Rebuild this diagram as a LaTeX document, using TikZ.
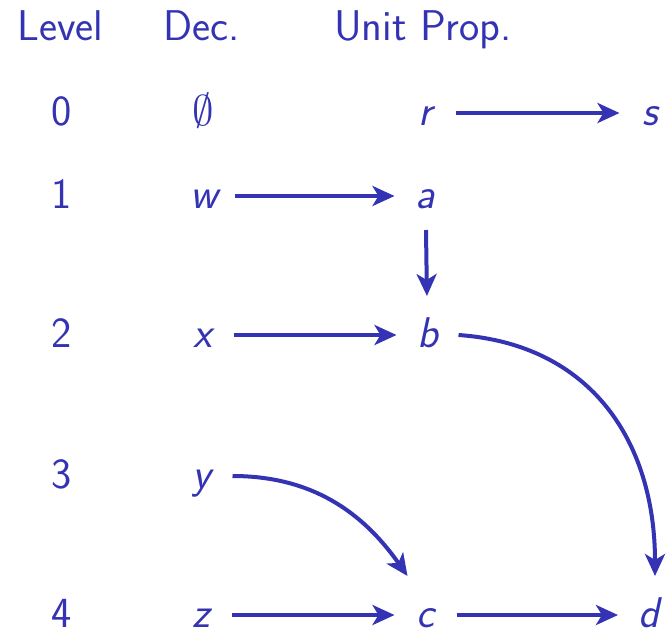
\documentclass[tikz,border=0pt]{standalone}
\usepackage{graphicx}
\usetikzlibrary{arrows.meta}
\definecolor{myblue}{RGB}{51,51,179}
\begin{document}
\begin{tikzpicture}[x=1pt,y=-1pt, line width=4pt, color=myblue,
  every node/.style={text=myblue, font=\sffamily\fontsize{43}{52}\selectfont},
  lbl/.style={anchor=base, inner sep=0pt},
  hdr/.style={anchor=base west, inner sep=0pt},
  var/.style={anchor=base, text height=24pt, text depth=0pt, inner sep=0pt,
    minimum width=58pt, minimum height=64pt,
    font=\sffamily\itshape\fontsize{43}{52}\selectfont},
  arr/.style={-{Stealth[length=22pt,width=20pt,inset=6pt]}}]
\useasboundingbox (0,0) rectangle (666,630);
% headers
\node[hdr] (hlevel) at (15.5,40.5) {Level};
\node[hdr] (hdec) at (161.5,40.5) {Dec.};
\node[hdr] (hunit) at (332,40.5) {Unit Prop.};
% levels
\node[lbl] (l0) at (62,125) {0};
\node[lbl] (l1) at (62,208) {1};
\node[lbl] (l2) at (62,347) {2};
\node[lbl] (l3) at (62,488) {3};
\node[lbl] (l4) at (62,627) {4};
% decisions
\node[lbl] (empty) at (203,125) {\scalebox{4.3}{\fontsize{10}{12}\selectfont$\emptyset$}};
\node[var] (w) at (204,208) {w};
\node[var] (x) at (202.5,347) {x};
\node[var] (y) at (201.5,488) {y};
\node[var] (z) at (201,627) {z};
% unit prop
\node[var] (r) at (425,125) {r};
\node[var] (s) at (650.5,125) {s};
\node[var] (a) at (425.5,208) {a};
\node[var] (b) at (427.5,347) {b};
\node[var] (c) at (425.5,627) {c};
\node[var] (d) at (649,627) {d};
% connectors
\draw[arr] (r) -- (s);
\draw[arr] (w) -- (a);
\draw[arr, shorten >=5pt] (a) -- (b);
\draw[arr] (x) -- (b);
\draw[arr] (b.east) to[out=-4,in=90,looseness=1.1] ([xshift=6pt,yshift=5pt]d.north);
\draw[arr] (y.east) to[out=0,in=125] ([xshift=-18pt,yshift=5pt]c.north);
\draw[arr] (z) -- (c);
\draw[arr] (c) -- (d);
\end{tikzpicture}
\end{document}
